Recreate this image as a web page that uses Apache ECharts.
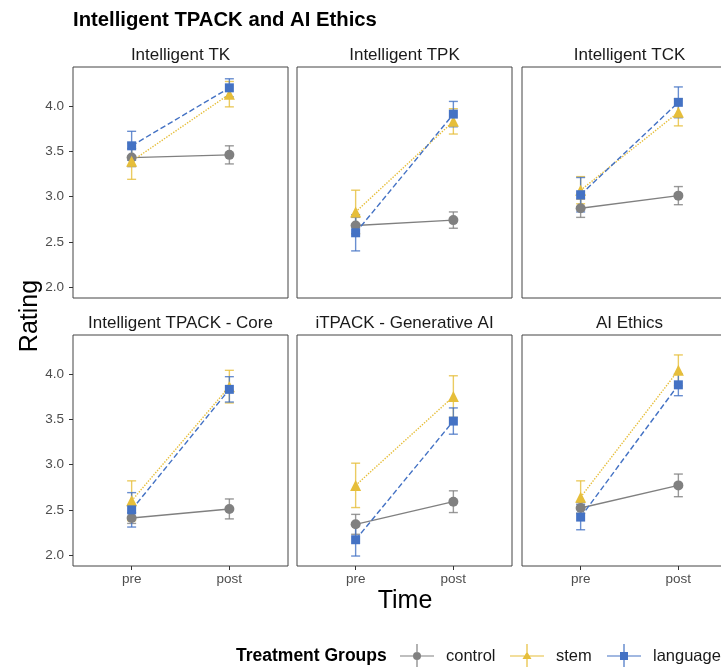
<!DOCTYPE html>
<html lang="en">
<head>
    <meta charset="UTF-8">
    <title>Intelligent TPACK and AI Ethics</title>
    <script src="https://cdn.jsdelivr.net/npm/echarts@6/dist/echarts.min.js"></script>
    <style>
        html, body { margin: 0; padding: 0; background: #fff; }
        #chart { width: 721px; height: 667px; }
    </style>
</head>
<body>
    <div id="chart"></div>
    <script>
        var panels = ['Intelligent TK', 'Intelligent TPK', 'Intelligent TCK',
            'Intelligent TPACK - Core', 'iTPACK - Generative AI', 'AI Ethics'];
        var timepoints = ['pre', 'post'];
        var groups = ['control', 'stem', 'language'];
        var yTicks = [2.0, 2.5, 3.0, 3.5, 4.0];

        // means per panel [pre, post]
        var controlMean = [[3.43, 3.46], [2.68, 2.74], [2.87, 3.01], [2.41, 2.51], [2.34, 2.59], [2.52, 2.77]];
        var stemMean = [[3.39, 4.13], [2.83, 3.83], [3.07, 3.93], [2.60, 3.86], [2.77, 3.75], [2.64, 4.04]];
        var languageMean = [[3.56, 4.20], [2.60, 3.91], [3.02, 4.04], [2.50, 3.83], [2.17, 3.48], [2.42, 3.88]];
        // error bar half widths
        var controlErr = [[0.10, 0.10], [0.09, 0.09], [0.10, 0.10], [0.06, 0.11], [0.11, 0.12], [0.06, 0.125]];
        var stemErr = [[0.20, 0.14], [0.24, 0.14], [0.15, 0.15], [0.22, 0.18], [0.245, 0.23], [0.18, 0.17]];
        var languageErr = [[0.16, 0.10], [0.20, 0.14], [0.19, 0.17], [0.19, 0.14], [0.18, 0.145], [0.14, 0.12]];

        var means = { control: controlMean, stem: stemMean, language: languageMean };
        var errs = { control: controlErr, stem: stemErr, language: languageErr };
        var colors = { control: '#808080', stem: '#E6BE3A', language: '#4472C4' };
        var barColors = { control: 'rgba(128,128,128,0.8)', stem: 'rgba(230,190,58,0.8)', language: 'rgba(68,114,196,0.8)' };
        var symbols = { control: 'circle', stem: 'triangle', language: 'rect' };
        var sizes = { control: 10, stem: 11, language: 9 };
        var dashes = { control: 'solid', stem: 'dotted', language: 'dashed' };
        var legendLefts = { control: 400, stem: 510, language: 607 };

        var font = '"Liberation Sans", Arial, sans-serif';
        var lefts = [73, 297, 522];
        var tops = [67, 335];
        var pw = 215, ph = 231;

        var grids = [], xAxes = [], yAxes = [], series = [], graphics = [];

        panels.forEach(function (name, p) {
            var col = p % 3, row = Math.floor(p / 3);
            grids.push({
                left: lefts[col], top: tops[row], width: pw, height: ph,
                outerBoundsMode: 'none', containLabel: false,
                show: true, borderColor: '#444', borderWidth: 1, backgroundColor: '#fff'
            });
            xAxes.push({
                type: 'value', gridIndex: p, min: 0.4, max: 2.6,
                splitLine: { show: false }, axisLine: { show: false },
                axisTick: { show: row === 1, length: 4, lineStyle: { color: '#333' }, customValues: [1, 2] },
                axisLabel: {
                    show: row === 1, customValues: [1, 2], margin: 6,
                    color: '#4d4d4d', fontSize: 13.5, fontFamily: font,
                    formatter: function (v) { return timepoints[Math.round(v) - 1]; }
                }
            });
            yAxes.push({
                type: 'value', gridIndex: p, min: 1.88, max: 4.43,
                splitLine: { show: false }, axisLine: { show: false },
                axisTick: { show: col === 0, length: 4, lineStyle: { color: '#333' }, customValues: yTicks },
                axisLabel: {
                    show: col === 0, customValues: yTicks, margin: 9,
                    color: '#4d4d4d', fontSize: 13.5, fontFamily: font,
                    formatter: function (v) { return v.toFixed(1); }
                }
            });
            graphics.push({
                type: 'text', x: lefts[col] + pw / 2, y: tops[row] - 12,
                style: { text: name, font: '17px ' + font, fill: '#1a1a1a', textAlign: 'center', textVerticalAlign: 'middle' }
            });

            // error bars first
            groups.forEach(function (g) {
                var data = timepoints.map(function (t, i) {
                    var m = means[g][p][i], e = errs[g][p][i];
                    return [i + 1, m - e, m + e];
                });
                series.push({
                    type: 'custom', name: g, xAxisIndex: p, yAxisIndex: p, z: 1,
                    data: data,
                    renderItem: function (params, api) {
                        var lo = api.coord([api.value(0), api.value(1)]);
                        var hi = api.coord([api.value(0), api.value(2)]);
                        var w = 4.5;
                        var st = { stroke: barColors[g], lineWidth: 1.4 };
                        return {
                            type: 'group', children: [
                                { type: 'line', shape: { x1: lo[0], y1: lo[1], x2: hi[0], y2: hi[1] }, style: st },
                                { type: 'line', shape: { x1: lo[0] - w, y1: lo[1], x2: lo[0] + w, y2: lo[1] }, style: st },
                                { type: 'line', shape: { x1: hi[0] - w, y1: hi[1], x2: hi[0] + w, y2: hi[1] }, style: st }
                            ]
                        };
                    }
                });
            });
            groups.forEach(function (g) {
                series.push({
                    type: 'line', name: g, xAxisIndex: p, yAxisIndex: p, z: 3,
                    data: means[g][p].map(function (v, i) { return [i + 1, v]; }),
                    symbol: symbols[g], symbolSize: sizes[g], showSymbol: true,
                    itemStyle: { color: colors[g] },
                    lineStyle: { color: colors[g], width: 1.4, type: dashes[g] }
                });
            });
        });

        graphics.push({
            type: 'text', x: 30, y: 316, rotation: Math.PI / 2,
            style: { text: 'Rating', font: '25px ' + font, fill: '#000', textAlign: 'center', textVerticalAlign: 'middle' }
        });
        graphics.push({
            type: 'text', x: 405, y: 601,
            style: { text: 'Time', font: '25px ' + font, fill: '#000', textAlign: 'center', textVerticalAlign: 'middle' }
        });
        graphics.push({
            type: 'text', x: 236, y: 656,
            style: { text: 'Treatment Groups', font: 'bold 17.5px ' + font, fill: '#000', textAlign: 'left', textVerticalAlign: 'middle' }
        });

        // legend key: line + error bar + marker (all drawn clockwise so fills don't cancel)
        var bar = 'M0,11.4 h34 v1.2 h-34 Z M16.4,0 h1.2 v24 h-1.2 Z ';
        var icons = {
            control: 'path://' + bar + 'M13,12 a4,4 0 1,1 8,0 a4,4 0 1,1 -8,0 Z',
            stem: 'path://' + bar + 'M17,7.5 L21.5,15 L12.5,15 Z',
            language: 'path://' + bar + 'M13,8 h8 v8 h-8 Z'
        };

        // one legend per group so the row is not wrapped at the page edge
        var legends = groups.map(function (g) {
            return {
                left: legendLefts[g], top: 644, padding: 0, itemWidth: 34, itemHeight: 24,
                data: [{ name: g, icon: icons[g], itemStyle: { color: colors[g] } }],
                textStyle: { fontSize: 16.5, color: '#1a1a1a', fontFamily: font, padding: [0, 0, 0, 7] }
            };
        });

        var chart = echarts.init(document.getElementById('chart'));
        chart.setOption({
            animation: false,
            title: {
                text: 'Intelligent TPACK and AI Ethics', left: 73, top: 10, padding: 0,
                textStyle: { fontSize: 20.3, fontWeight: 'bold', color: '#000', fontFamily: font }
            },
            legend: legends,
            grid: grids,
            xAxis: xAxes,
            yAxis: yAxes,
            series: series,
            graphic: graphics
        });
    </script>
</body>
</html>
